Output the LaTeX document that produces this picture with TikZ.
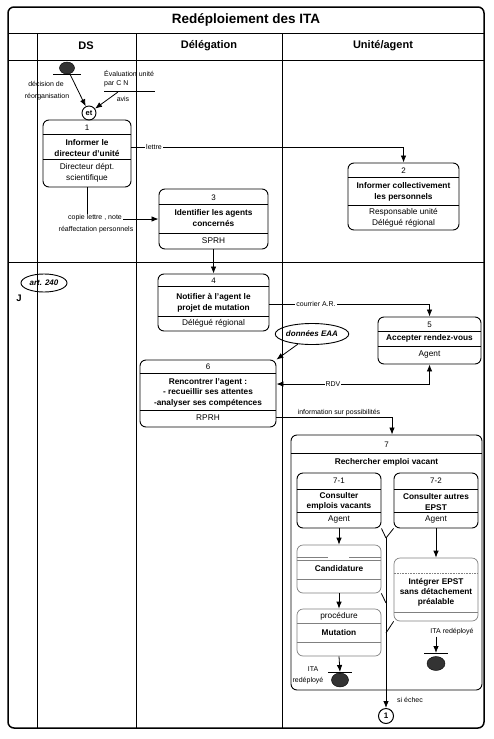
\documentclass[tikz,border=0pt]{standalone}
\usepackage{fontspec}
\setmainfont{Liberation Sans}
\usetikzlibrary{arrows.meta,shapes.geometric}
\begin{document}
\begin{tikzpicture}[x=1pt,y=-1pt,
  box/.style={draw,line width=0.9pt,rounded corners=6pt,inner sep=0},
  lbox/.style={draw=black!50,line width=0.7pt,rounded corners=6pt,inner sep=0},
  sep/.style={line width=0.7pt},
  lsep/.style={draw=black!50,line width=0.6pt},
  btxt/.style={font=\fontsize{8.3}{11}\selectfont\bfseries,inner sep=0,align=center},
  rtxt/.style={font=\fontsize{8.3}{11}\selectfont,inner sep=0,align=center},
  num/.style={font=\fontsize{8}{9}\selectfont,inner sep=0},
  small/.style={font=\fontsize{7}{8}\selectfont,inner sep=1pt},
  wlab/.style={font=\fontsize{7}{8}\selectfont,inner sep=1pt,fill=white},
  arr/.style={line width=0.8pt,-{Latex[length=7pt,width=5.5pt]}},
  darr/.style={line width=0.8pt,{Latex[length=7pt,width=5.5pt]}-{Latex[length=7pt,width=5.5pt]}},
  link/.style={line width=0.8pt},
  endpt/.style={ellipse,fill=black!80,draw=black,inner sep=0},
  note/.style={ellipse,draw,line width=0.9pt,inner sep=0,font=\fontsize{8}{9}\selectfont\bfseries\itshape},
  lane/.style={line width=0.9pt}
]
\useasboundingbox (0,0) rectangle (493,739);
% frame and lanes
\draw[line width=1.5pt,rounded corners=6pt] (8,7) rectangle (484,728);
\draw[lane] (8,33) -- (484,33);
\draw[lane] (8,60) -- (484,60);
\draw[lane] (8,262) -- (484,262);
\draw[lane] (37,33) -- (37,728);
\draw[lane] (136,33) -- (136,728);
\draw[lane] (282,33) -- (282,728);
\node[font=\fontsize{13.5}{15}\selectfont\bfseries] (title) at (246,20) {Redéploiement des ITA};
\node[font=\fontsize{11}{13}\selectfont\bfseries] (hds) at (86,46) {DS};
\node[font=\fontsize{11}{13}\selectfont\bfseries] (hdel) at (209,46) {Délégation};
\node[font=\fontsize{11}{13}\selectfont\bfseries] (hua) at (383,46) {Unité/agent};

% start and join
\node[endpt,minimum width=15pt,minimum height=12pt] (s0) at (67,68) {};
\draw[line width=0.8pt] (53,74.5) -- (81,74.5);
\node[circle,draw,line width=0.9pt,minimum size=14pt,inner sep=0,font=\fontsize{7.5}{8}\selectfont\bfseries] (et) at (89,113) {et};
\node[small] (dec1) at (46,84) {décision de};
\node[small] (dec2) at (47,97) {réorganisation};
\node[small,anchor=west] (ev1) at (103,73) {Évaluation unité};
\node[small,anchor=west] (ev2) at (103,84) {par C N};
\draw[line width=0.8pt] (104,91) -- (155,91);
\coordinate (evsrc) at (118,92);
\node[small] (avis) at (123,99) {avis};
\draw[arr] (s0) -- (et);
\draw[arr] (evsrc) -- (et);

% box 1
\node[box,minimum width=88pt,minimum height=67pt] (b1) at (87,153.5) {};
\draw[sep] (b1.west |- 0,134) -- (b1.east |- 0,134);
\draw[sep] (b1.west |- 0,159) -- (b1.east |- 0,159);
\node[num] at (87,128) {1};
\node[btxt] at (87,148) {Informer le\\directeur d'unité};
\node[rtxt] at (87,172.5) {Directeur dépt.\\scientifique};

% box 2
\node[box,minimum width=111pt,minimum height=67pt] (b2) at (403.5,196.5) {};
\draw[sep] (b2.west |- 0,177) -- (b2.east |- 0,177);
\draw[sep] (b2.west |- 0,205) -- (b2.east |- 0,205);
\node[num] at (403.5,171) {2};
\node[btxt] at (403.5,192) {Informer collectivement\\les personnels};
\node[rtxt] at (403.5,217.5) {Responsable unité\\Délégué régional};

% box 3
\node[box,minimum width=109pt,minimum height=60pt] (b3) at (213.5,219) {};
\draw[sep] (b3.west |- 0,204) -- (b3.east |- 0,204);
\draw[sep] (b3.west |- 0,233) -- (b3.east |- 0,233);
\node[num] at (213.5,197.5) {3};
\node[btxt] at (213.5,218) {Identifier les agents\\concernés};
\node[rtxt] at (213.5,240.5) {SPRH};

% box 4
\node[box,minimum width=111pt,minimum height=57pt] (b4) at (213.5,302.5) {};
\draw[sep] (b4.west |- 0,286) -- (b4.east |- 0,286);
\draw[sep] (b4.west |- 0,316) -- (b4.east |- 0,316);
\node[num] at (213.5,280.5) {4};
\node[btxt] at (213.5,302.5) {Notifier à l'agent le\\projet de mutation};
\node[rtxt] at (213.5,323) {Délégué régional};

% box 5
\node[box,minimum width=103pt,minimum height=47pt] (b5) at (429.5,340.5) {};
\draw[sep] (b5.west |- 0,331) -- (b5.east |- 0,331);
\draw[sep] (b5.west |- 0,346) -- (b5.east |- 0,346);
\node[num] at (429.5,324.5) {5};
\node[btxt] at (429.5,338.5) {Accepter rendez-vous};
\node[rtxt] at (429.5,354.5) {Agent};

% box 6
\node[box,minimum width=136pt,minimum height=67pt] (b6) at (208,393.5) {};
\draw[sep] (b6.west |- 0,373) -- (b6.east |- 0,373);
\draw[sep] (b6.west |- 0,410) -- (b6.east |- 0,410);
\node[num] at (208,367) {6};
\node[btxt,font=\fontsize{8.3}{10.5}\selectfont\bfseries] at (208,392.5) {Rencontrer l'agent :\\- recueillir ses attentes\\-analyser ses compétences};
\node[rtxt] at (208,418) {RPRH};

% notes
\node[note,minimum width=46pt,minimum height=18pt] (art) at (44,283) {art. 240};
\node[font=\fontsize{9.5}{10}\selectfont\bfseries] (jj) at (19,298) {J};
\node[note,minimum width=66pt,minimum height=21pt] (eaa) at (312,334) {données EAA};

% box 7
\node[box,minimum width=191pt,minimum height=255pt] (b7) at (386.5,562.5) {};
\draw[sep] (b7.west |- 0,453) -- (b7.east |- 0,453);
\node[num] at (386.5,444.5) {7};
\node[btxt] at (386.5,462) {Rechercher emploi vacant};

% box 7-1
\node[box,minimum width=84pt,minimum height=55pt] (b71) at (339,500.5) {};
\draw[sep] (b71.west |- 0,489) -- (b71.east |- 0,489);
\draw[sep] (b71.west |- 0,512) -- (b71.east |- 0,512);
\node[num] at (339,481) {7-1};
\node[btxt,font=\fontsize{8.3}{10.5}\selectfont\bfseries] at (339,501.5) {Consulter\\emplois vacants};
\node[rtxt] at (339,519) {Agent};

% box 7-2
\node[box,minimum width=84pt,minimum height=55pt] (b72) at (436,500.5) {};
\draw[sep] (b72.west |- 0,489) -- (b72.east |- 0,489);
\draw[sep] (b72.west |- 0,512) -- (b72.east |- 0,512);
\node[num] at (436,481) {7-2};
\node[btxt,font=\fontsize{8.3}{10.5}\selectfont\bfseries] at (436,502) {Consulter autres\\EPST};
\node[rtxt] at (436,519) {Agent};

% candidature
\node[lbox,minimum width=84pt,minimum height=48pt] (cand) at (339,569) {};
\draw[lsep] (cand.west |- 0,557) -- (328,557) (349,557) -- (cand.east |- 0,557);
\draw[lsep] (cand.west |- 0,560) -- (cand.east |- 0,560);
\draw[lsep] (cand.west |- 0,579) -- (cand.east |- 0,579);
\node[btxt] at (339,568.5) {Candidature};

% mutation
\node[lbox,minimum width=84pt,minimum height=47pt] (mut) at (339,632.5) {};
\draw[lsep] (mut.west |- 0,623) -- (mut.east |- 0,623);
\draw[lsep] (mut.west |- 0,642) -- (mut.east |- 0,642);
\node[rtxt] at (339,616) {procédure};
\node[btxt] at (339,632.5) {Mutation};

% integrer
\node[lbox,minimum width=84pt,minimum height=63pt] (integ) at (436,589.5) {};
\draw[lsep,densely dotted] (integ.west |- 0,573) -- (integ.east |- 0,573);
\draw[lsep] (integ.west |- 0,612) -- (integ.east |- 0,612);
\node[btxt,font=\fontsize{8.3}{9.8}\selectfont\bfseries] at (436,592.5) {Intégrer EPST\\sans détachement\\préalable};

% ends
\node[endpt,minimum width=17pt,minimum height=14pt] (e1) at (340,680) {};
\coordinate (bar1) at (340,672);
\draw[line width=0.8pt] (328,672) -- (352,672);
\node[small] (ita1a) at (313,669) {ITA};
\node[small] (ita1b) at (308,680.5) {redéployé};
\node[endpt,minimum width=18pt,minimum height=14pt] (e2) at (436,663.5) {};
\coordinate (bar2) at (436,653);
\draw[line width=0.8pt] (424,653) -- (448,653);
\node[small] (ita2) at (452,632) {ITA redéployé};

\node[circle,draw,line width=1pt,minimum size=15pt,inner sep=0,font=\fontsize{8}{9}\selectfont\bfseries] (c1) at (386,716) {1};
\node[small,anchor=west] (echec) at (396,700) {si échec};

% junctions
\coordinate (J) at (386,538);
\coordinate (jc) at (386,603);
\coordinate (jd) at (386,633);

% connectors
\draw[arr] (b1.east |- 0,147) -| (b2.north);
\node[wlab] (llettre) at (154,147) {lettre};
\draw[arr] (b1.south) |- (b3.west);
\node[wlab] (lcopie) at (95,218) {copie lettre , note};
\node[small] (lreaff) at (96,229.5) {réaffectation personnels};
\draw[arr] (b3.south) -- (b4.north);
\draw[arr] (b4.east |- 0,304) -| (b5.north);
\node[wlab] (lcour) at (316,304) {courrier A.R.};
\draw[arr] (eaa) -- (b6.north east);
\draw[darr] (b6.east |- 0,384) -| (b5.south);
\node[wlab] (lrdv) at (333,384) {RDV};
\draw[arr] (b6.east |- 0,417) -| ([xshift=5.5pt]b7.north);
\node[small,anchor=south] (linfo) at (339,417) {information sur possibilités};
\draw[arr] (b71.south) -- (cand.north);
\draw[arr] (cand.south) -- (mut.north);
\draw[arr] (mut.south) -- (bar1);
\draw[arr] (b72.south) -- (integ.north);
\draw[arr] (ita2.south -| bar2) -- (bar2);
\draw[link] (b71.south east) -- (J);
\draw[link] (b72.south west) -- (J);
\draw[link] (cand.south east) -- (jc);
\draw[link] (integ.south west) -- (jd);
\draw[arr] (J) -- (c1.north);
\end{tikzpicture}
\end{document}
